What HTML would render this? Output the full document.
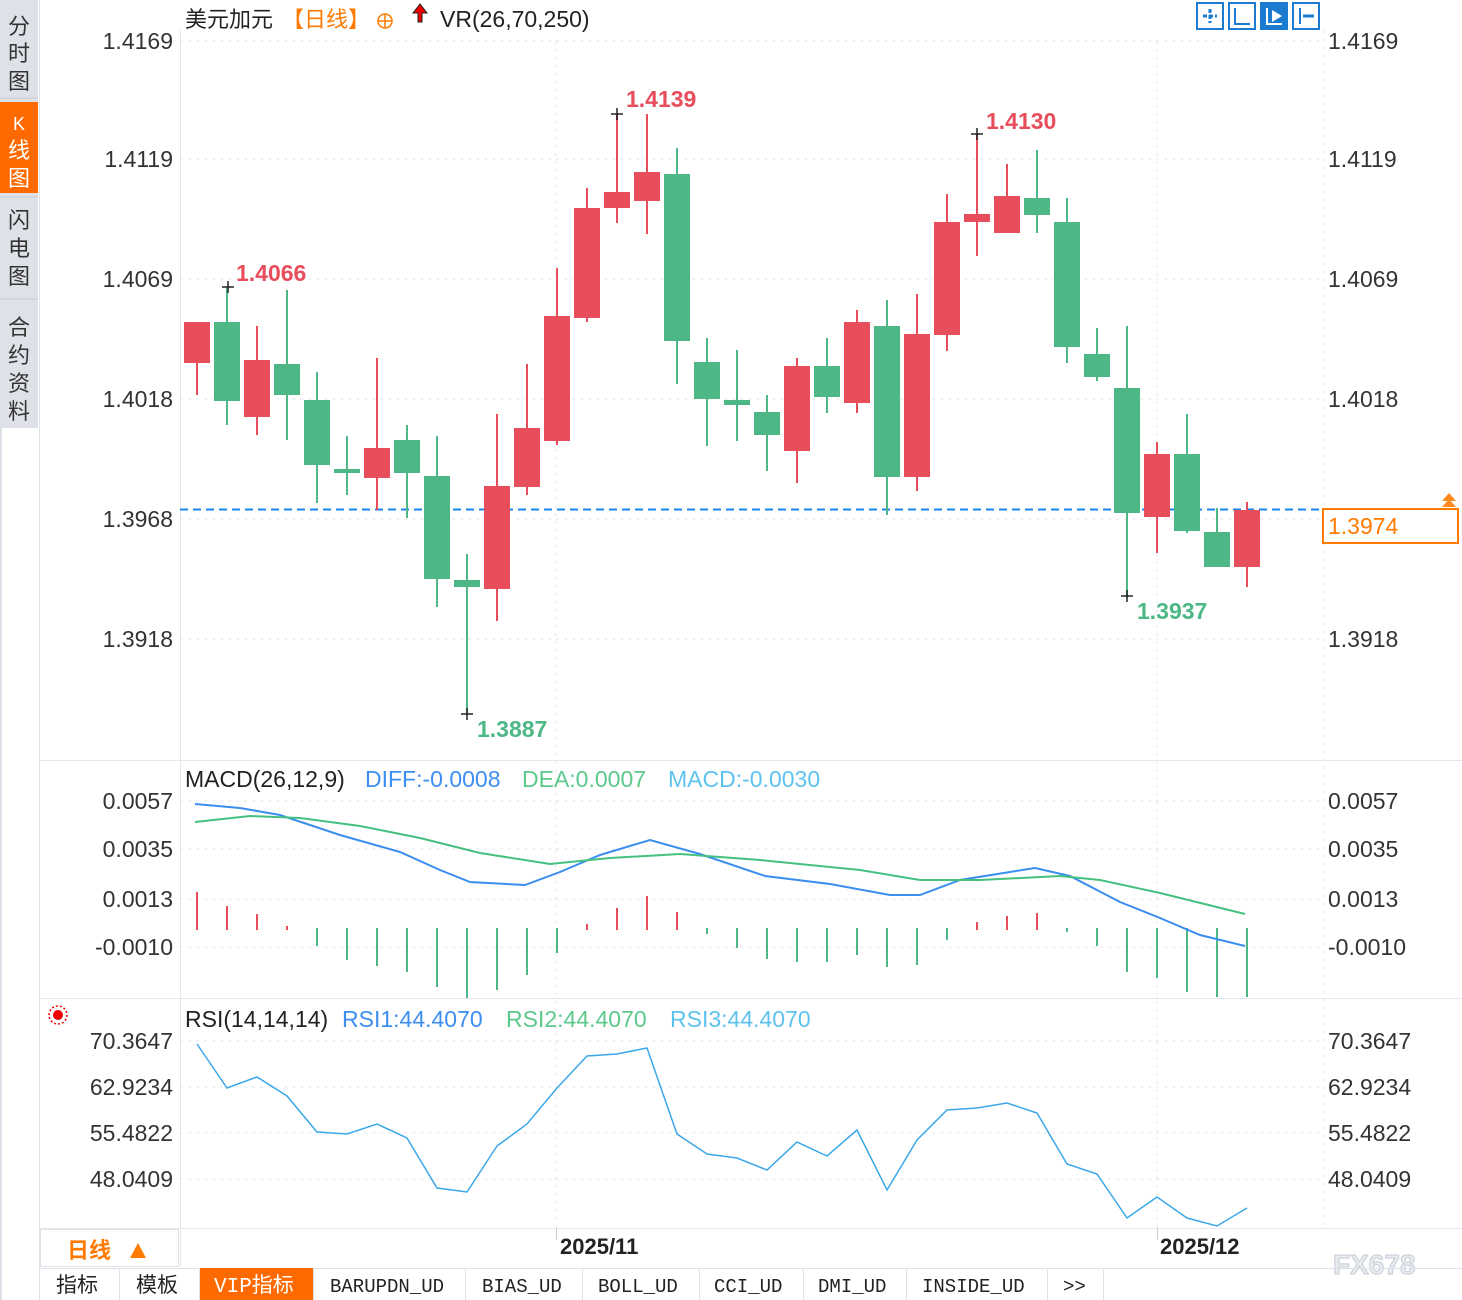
<!DOCTYPE html>
<html><head><meta charset="utf-8"><style>
body{margin:0;width:1462px;height:1300px;background:#fff;overflow:hidden;font-family:"Liberation Sans","Noto Sans CJK SC",sans-serif;}
svg{position:absolute;left:0;top:0}
</style></head><body>
<svg width="1462" height="1300" xmlns="http://www.w3.org/2000/svg" font-family="Liberation Sans, Noto Sans CJK SC, sans-serif">
<rect x="0" y="0" width="38" height="1300" fill="#dfe1e8"/>
<rect x="2" y="428" width="36" height="872" fill="#fff"/>
<rect x="0" y="102" width="38" height="91" fill="#ff6a00"/>
<line x1="0" y1="98" x2="38" y2="98" stroke="#c9ccd6"/>
<line x1="0" y1="197" x2="38" y2="197" stroke="#c9ccd6"/>
<line x1="0" y1="299" x2="38" y2="299" stroke="#c9ccd6"/>
<g font-size="22" fill="#333" text-anchor="middle">
<text x="19" y="34">分</text><text x="19" y="61">时</text><text x="19" y="89">图</text>
<text x="19" y="130" fill="#fff" font-size="18">K</text><text x="19" y="158" fill="#fff">线</text><text x="19" y="186" fill="#fff">图</text>
<text x="19" y="228">闪</text><text x="19" y="256">电</text><text x="19" y="284">图</text>
<text x="19" y="335">合</text><text x="19" y="363">约</text><text x="19" y="391">资</text><text x="19" y="419">料</text>
</g>
<line x1="39.5" y1="0" x2="39.5" y2="1300" stroke="#dde1e8"/>
<g stroke="#e2e5ea" stroke-dasharray="3,5">
<line x1="180" y1="41" x2="1324" y2="41"/><line x1="180" y1="159" x2="1324" y2="159"/><line x1="180" y1="279" x2="1324" y2="279"/>
<line x1="180" y1="399" x2="1324" y2="399"/><line x1="180" y1="519" x2="1324" y2="519"/><line x1="180" y1="639" x2="1324" y2="639"/>
<line x1="180" y1="801" x2="1324" y2="801"/><line x1="180" y1="849" x2="1324" y2="849"/><line x1="180" y1="899" x2="1324" y2="899"/><line x1="180" y1="947" x2="1324" y2="947"/>
<line x1="180" y1="1041" x2="1324" y2="1041"/><line x1="180" y1="1087" x2="1324" y2="1087"/><line x1="180" y1="1133" x2="1324" y2="1133"/><line x1="180" y1="1179" x2="1324" y2="1179"/>
<line x1="556" y1="41" x2="556" y2="1228"/><line x1="1157" y1="41" x2="1157" y2="1228"/>
<line x1="1324" y1="30" x2="1324" y2="1228"/>
</g>
<line x1="180.5" y1="30" x2="180.5" y2="1266" stroke="#e4e7ec"/>
<line x1="40" y1="760.5" x2="1462" y2="760.5" stroke="#e4e7ec"/>
<line x1="40" y1="998.5" x2="1462" y2="998.5" stroke="#e4e7ec"/>
<line x1="40" y1="1228.5" x2="1462" y2="1228.5" stroke="#e4e7ec"/>
<g font-size="23" fill="#333" text-anchor="end">
<text x="173" y="49">1.4169</text><text x="173" y="167">1.4119</text><text x="173" y="287">1.4069</text><text x="173" y="407">1.4018</text><text x="173" y="527">1.3968</text><text x="173" y="647">1.3918</text>
<text x="173" y="809">0.0057</text><text x="173" y="857">0.0035</text><text x="173" y="907">0.0013</text><text x="173" y="955">-0.0010</text>
<text x="173" y="1049">70.3647</text><text x="173" y="1095">62.9234</text><text x="173" y="1141">55.4822</text><text x="173" y="1187">48.0409</text>
</g>
<g font-size="23" fill="#333">
<text x="1328" y="49">1.4169</text><text x="1328" y="167">1.4119</text><text x="1328" y="287">1.4069</text><text x="1328" y="407">1.4018</text><text x="1328" y="647">1.3918</text>
<text x="1328" y="809">0.0057</text><text x="1328" y="857">0.0035</text><text x="1328" y="907">0.0013</text><text x="1328" y="955">-0.0010</text>
<text x="1328" y="1049">70.3647</text><text x="1328" y="1095">62.9234</text><text x="1328" y="1141">55.4822</text><text x="1328" y="1187">48.0409</text>
</g>
<text x="185" y="27" font-size="22" fill="#222">美元加元</text>
<text x="282" y="27" font-size="22" fill="#ff7a00">【日线】</text>
<circle cx="385" cy="21" r="7" fill="none" stroke="#ff7a00" stroke-width="1.5"/><line x1="378" y1="21" x2="392" y2="21" stroke="#ff7a00" stroke-width="1.5"/><line x1="385" y1="14" x2="385" y2="28" stroke="#ff7a00" stroke-width="1.5"/>
<path d="M420 4 L413 13 L418 13 L418 22 L422 22 L422 13 L427 13 Z" fill="#e00" stroke="#222" stroke-width="1"/>
<text x="440" y="27" font-size="23" fill="#222">VR(26,70,250)</text>
<g fill="none" stroke="#1a7bd0" stroke-width="2">
<rect x="1197" y="3" width="26" height="26"/><rect x="1229" y="3" width="26" height="26"/><rect x="1293" y="3" width="26" height="26"/>
</g>
<rect x="1260" y="2" width="28" height="28" fill="#1a7bd0"/>
<g stroke="#1a7bd0" stroke-width="3"><line x1="1203" y1="16" x2="1217" y2="16" stroke-dasharray="4,2"/><line x1="1210" y1="9" x2="1210" y2="23" stroke-dasharray="4,2"/>
<path d="M1235 8 V24 H1250" fill="none" stroke-width="2"/><path d="M1300 8 V24" stroke-width="2"/><path d="M1303 16 H1314" stroke-width="3"/></g>
<path d="M1267 8 V24 H1282" fill="none" stroke="#fff" stroke-width="2"/><path d="M1272 10 L1282 16 L1272 22Z" fill="#fff"/>
<line x1="180" y1="509.5" x2="1320" y2="509.5" stroke="#1a86f0" stroke-width="2" stroke-dasharray="8,5"/>
<rect x="1323" y="509" width="135" height="34" fill="#fff" stroke="#ff7a00" stroke-width="2"/>
<text x="1328" y="534" font-size="23" fill="#ff7a00">1.3974</text>
<path d="M1449 493 L1456 501 L1442 501Z M1449 499 L1456 507 L1442 507Z" fill="#ff8a20"/>
<g stroke-width="2">
<g fill="#e84d5b" stroke="#e84d5b">
<line x1="197" y1="322" x2="197" y2="395"/><rect x="184" y="322" width="26" height="41" stroke="none"/>
<line x1="257" y1="326" x2="257" y2="435"/><rect x="244" y="360" width="26" height="57" stroke="none"/>
<line x1="377" y1="358" x2="377" y2="510"/><rect x="364" y="448" width="26" height="30" stroke="none"/>
<line x1="497" y1="414" x2="497" y2="621"/><rect x="484" y="486" width="26" height="103" stroke="none"/>
<line x1="527" y1="364" x2="527" y2="495"/><rect x="514" y="428" width="26" height="59" stroke="none"/>
<line x1="557" y1="268" x2="557" y2="445"/><rect x="544" y="316" width="26" height="125" stroke="none"/>
<line x1="587" y1="188" x2="587" y2="322"/><rect x="574" y="208" width="26" height="110" stroke="none"/>
<line x1="617" y1="114" x2="617" y2="223"/><rect x="604" y="192" width="26" height="16" stroke="none"/>
<line x1="647" y1="114" x2="647" y2="234"/><rect x="634" y="172" width="26" height="29" stroke="none"/>
<line x1="797" y1="358" x2="797" y2="483"/><rect x="784" y="366" width="26" height="85" stroke="none"/>
<line x1="857" y1="310" x2="857" y2="413"/><rect x="844" y="322" width="26" height="81" stroke="none"/>
<line x1="917" y1="294" x2="917" y2="491"/><rect x="904" y="334" width="26" height="143" stroke="none"/>
<line x1="947" y1="194" x2="947" y2="351"/><rect x="934" y="222" width="26" height="113" stroke="none"/>
<line x1="977" y1="134" x2="977" y2="256"/><rect x="964" y="214" width="26" height="8" stroke="none"/>
<line x1="1007" y1="164" x2="1007" y2="233"/><rect x="994" y="196" width="26" height="37" stroke="none"/>
<line x1="1157" y1="442" x2="1157" y2="553"/><rect x="1144" y="454" width="26" height="63" stroke="none"/>
<line x1="1247" y1="502" x2="1247" y2="587"/><rect x="1234" y="510" width="26" height="57" stroke="none"/>
</g>
<g fill="#4db886" stroke="#4db886">
<line x1="227" y1="287" x2="227" y2="425"/><rect x="214" y="322" width="26" height="79" stroke="none"/>
<line x1="287" y1="290" x2="287" y2="440"/><rect x="274" y="364" width="26" height="31" stroke="none"/>
<line x1="317" y1="372" x2="317" y2="503"/><rect x="304" y="400" width="26" height="65" stroke="none"/>
<line x1="347" y1="436" x2="347" y2="495"/><rect x="334" y="469" width="26" height="4" stroke="none"/>
<line x1="407" y1="425" x2="407" y2="518"/><rect x="394" y="440" width="26" height="33" stroke="none"/>
<line x1="437" y1="436" x2="437" y2="607"/><rect x="424" y="476" width="26" height="103" stroke="none"/>
<line x1="467" y1="554" x2="467" y2="714"/><rect x="454" y="580" width="26" height="7" stroke="none"/>
<line x1="677" y1="148" x2="677" y2="384"/><rect x="664" y="174" width="26" height="167" stroke="none"/>
<line x1="707" y1="338" x2="707" y2="446"/><rect x="694" y="362" width="26" height="37" stroke="none"/>
<line x1="737" y1="350" x2="737" y2="441"/><rect x="724" y="400" width="26" height="5" stroke="none"/>
<line x1="767" y1="395" x2="767" y2="471"/><rect x="754" y="412" width="26" height="23" stroke="none"/>
<line x1="827" y1="338" x2="827" y2="413"/><rect x="814" y="366" width="26" height="31" stroke="none"/>
<line x1="887" y1="300" x2="887" y2="515"/><rect x="874" y="326" width="26" height="151" stroke="none"/>
<line x1="1037" y1="150" x2="1037" y2="233"/><rect x="1024" y="198" width="26" height="17" stroke="none"/>
<line x1="1067" y1="198" x2="1067" y2="363"/><rect x="1054" y="222" width="26" height="125" stroke="none"/>
<line x1="1097" y1="328" x2="1097" y2="381"/><rect x="1084" y="354" width="26" height="23" stroke="none"/>
<line x1="1127" y1="326" x2="1127" y2="598"/><rect x="1114" y="388" width="26" height="125" stroke="none"/>
<line x1="1187" y1="414" x2="1187" y2="533"/><rect x="1174" y="454" width="26" height="77" stroke="none"/>
<line x1="1217" y1="508" x2="1217" y2="567"/><rect x="1204" y="532" width="26" height="35" stroke="none"/>
</g>
</g>
<g stroke="#222" stroke-width="1.5">
<line x1="222" y1="287" x2="234" y2="287"/><line x1="228" y1="281" x2="228" y2="293"/>
<line x1="611" y1="114" x2="623" y2="114"/><line x1="617" y1="108" x2="617" y2="120"/>
<line x1="971" y1="134" x2="983" y2="134"/><line x1="977" y1="128" x2="977" y2="140"/>
<line x1="461" y1="714" x2="473" y2="714"/><line x1="467" y1="708" x2="467" y2="720"/>
<line x1="1121" y1="596" x2="1133" y2="596"/><line x1="1127" y1="590" x2="1127" y2="602"/>
</g>
<g font-size="23" font-weight="bold">
<text x="236" y="281" fill="#e84d5b">1.4066</text>
<text x="626" y="107" fill="#e84d5b">1.4139</text>
<text x="986" y="129" fill="#e84d5b">1.4130</text>
<text x="477" y="737" fill="#4db886">1.3887</text>
<text x="1137" y="619" fill="#4db886">1.3937</text>
</g>
<text x="185" y="787" font-size="23" fill="#222">MACD(26,12,9)</text>
<text x="365" y="787" font-size="23" fill="#3c8ff0">DIFF:-0.0008</text>
<text x="522" y="787" font-size="23" fill="#5cc98c">DEA:0.0007</text>
<text x="668" y="787" font-size="23" fill="#5ec2ee">MACD:-0.0030</text>
<g stroke-width="2">
<g stroke="#e84d5b"><line x1="197" y1="930" x2="197" y2="892"/><line x1="227" y1="930" x2="227" y2="906"/><line x1="257" y1="930" x2="257" y2="914"/><line x1="287" y1="930" x2="287" y2="926"/>
<line x1="587" y1="930" x2="587" y2="924"/><line x1="617" y1="930" x2="617" y2="908"/><line x1="647" y1="930" x2="647" y2="896"/><line x1="677" y1="930" x2="677" y2="912"/>
<line x1="977" y1="930" x2="977" y2="922"/><line x1="1007" y1="930" x2="1007" y2="916"/><line x1="1037" y1="930" x2="1037" y2="913"/></g>
<g stroke="#4db886"><line x1="317" y1="928" x2="317" y2="946"/><line x1="347" y1="928" x2="347" y2="960"/><line x1="377" y1="928" x2="377" y2="966"/><line x1="407" y1="928" x2="407" y2="972"/>
<line x1="437" y1="928" x2="437" y2="987"/><line x1="467" y1="928" x2="467" y2="998"/><line x1="497" y1="928" x2="497" y2="990"/><line x1="527" y1="928" x2="527" y2="975"/><line x1="557" y1="928" x2="557" y2="953"/>
<line x1="707" y1="928" x2="707" y2="934"/><line x1="737" y1="928" x2="737" y2="948"/><line x1="767" y1="928" x2="767" y2="959"/><line x1="797" y1="928" x2="797" y2="962"/><line x1="827" y1="928" x2="827" y2="962"/><line x1="857" y1="928" x2="857" y2="955"/><line x1="887" y1="928" x2="887" y2="967"/><line x1="917" y1="928" x2="917" y2="965"/><line x1="947" y1="928" x2="947" y2="940"/>
<line x1="1067" y1="928" x2="1067" y2="932"/><line x1="1097" y1="928" x2="1097" y2="946"/><line x1="1127" y1="928" x2="1127" y2="972"/><line x1="1157" y1="928" x2="1157" y2="978"/><line x1="1187" y1="928" x2="1187" y2="992"/><line x1="1217" y1="928" x2="1217" y2="997"/><line x1="1247" y1="928" x2="1247" y2="997"/></g>
</g>
<polyline fill="none" stroke="#3a8ef0" stroke-width="2" points="195,804 240,808 280,815 340,835 400,852 440,870 470,882 525,885 560,872 600,855 650,840 700,854 765,876 830,884 890,895 920,895 960,880 1035,868 1070,876 1120,902 1160,918 1200,935 1245,946"/>
<polyline fill="none" stroke="#46c07f" stroke-width="2" points="195,822 250,816 300,818 360,826 420,838 480,853 550,864 610,858 680,854 760,860 860,870 920,880 980,880 1060,876 1100,880 1160,893 1245,914"/>
<circle cx="58" cy="1015" r="5" fill="#e00"/><circle cx="58" cy="1015" r="9" fill="none" stroke="#e00" stroke-width="1.5" stroke-dasharray="2,2"/>
<text x="185" y="1027" font-size="23" fill="#222">RSI(14,14,14)</text>
<text x="342" y="1027" font-size="23" fill="#3c8ff0">RSI1:44.4070</text>
<text x="506" y="1027" font-size="23" fill="#5cc98c">RSI2:44.4070</text>
<text x="670" y="1027" font-size="23" fill="#5ec2ee">RSI3:44.4070</text>
<polyline fill="none" stroke="#3aa8e8" stroke-width="1.5" points="197,1044 227,1088 257,1077 287,1096 317,1132 347,1134 377,1124 407,1138 437,1188 467,1192 497,1146 527,1124 557,1088 587,1056 617,1054 647,1048 677,1134 707,1154 737,1158 767,1170 797,1142 827,1156 857,1130 887,1190 917,1140 947,1110 977,1108 1007,1103 1037,1113 1067,1164 1097,1174 1127,1218 1157,1197 1187,1218 1217,1226 1247,1208"/>
<rect x="40.5" y="1229.5" width="138" height="37" fill="#fff" stroke="#dde1e8"/>
<text x="67" y="1258" font-size="22" fill="#ff7a00" font-weight="bold">日线</text>
<path d="M130 1258 L138 1243 L146 1258Z" fill="#ff7a00"/>
<line x1="556.5" y1="1228" x2="556.5" y2="1240" stroke="#ccc"/><line x1="1157.5" y1="1228" x2="1157.5" y2="1240" stroke="#ccc"/>
<text x="560" y="1254" font-size="22" font-weight="bold" fill="#222">2025/11</text>
<text x="1160" y="1254" font-size="22" font-weight="bold" fill="#222">2025/12</text>
<text x="1333" y="1274" font-size="28" font-weight="bold" fill="#e8ebf0" stroke="#c5ccd6" stroke-width="1">FX678</text>
<line x1="40" y1="1268.5" x2="1462" y2="1268.5" stroke="#dde1e8"/>
<rect x="200" y="1268" width="113" height="32" fill="#ff6a00"/>
<g stroke="#dde1e8"><line x1="119.5" y1="1268" x2="119.5" y2="1300"/><line x1="199.5" y1="1268" x2="199.5" y2="1300"/><line x1="313.5" y1="1268" x2="313.5" y2="1300"/><line x1="465.5" y1="1268" x2="465.5" y2="1300"/><line x1="582.5" y1="1268" x2="582.5" y2="1300"/><line x1="699.5" y1="1268" x2="699.5" y2="1300"/><line x1="803.5" y1="1268" x2="803.5" y2="1300"/><line x1="906.5" y1="1268" x2="906.5" y2="1300"/><line x1="1047.5" y1="1268" x2="1047.5" y2="1300"/><line x1="1103.5" y1="1268" x2="1103.5" y2="1300"/></g>
<g font-size="21" fill="#222" font-family="Liberation Mono, Noto Sans CJK SC, monospace">
<text x="56" y="1292">指标</text><text x="136" y="1292">模板</text><text x="214" y="1292" fill="#fff">VIP指标</text>
<text x="330" y="1292" font-size="19">BARUPDN_UD</text><text x="482" y="1292" font-size="19">BIAS_UD</text><text x="598" y="1292" font-size="19">BOLL_UD</text><text x="714" y="1292" font-size="19">CCI_UD</text><text x="818" y="1292" font-size="19">DMI_UD</text><text x="922" y="1292" font-size="19">INSIDE_UD</text><text x="1063" y="1292" font-size="19">&gt;&gt;</text>
</g>
</svg>
</body></html>
